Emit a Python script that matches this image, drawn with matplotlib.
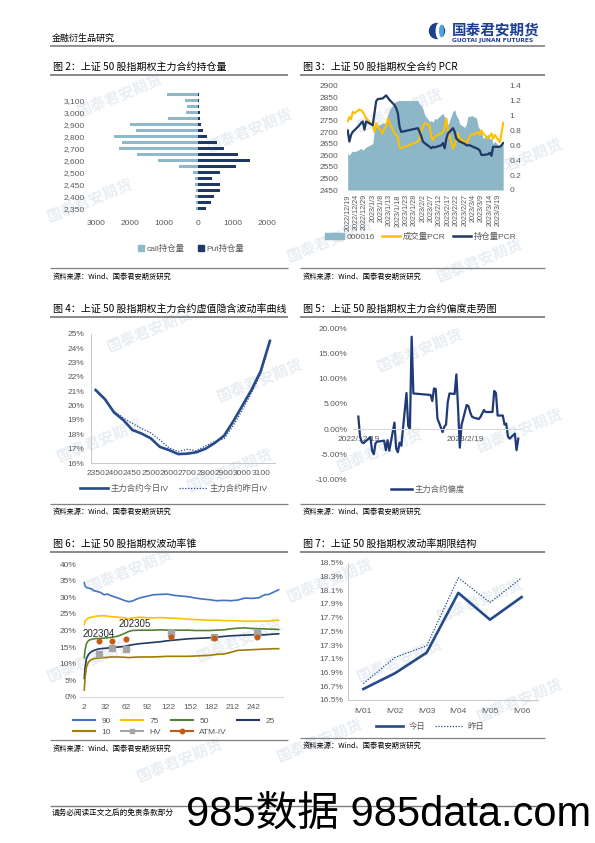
import numpy as np
import pandas as pd
import matplotlib
matplotlib.use('Agg')
import matplotlib.pyplot as plt
from matplotlib.lines import Line2D
from matplotlib.patches import Patch, Circle, Ellipse

plt.rcParams['font.family'] = ['Liberation Sans', 'Noto Sans CJK SC', 'DejaVu Sans']
plt.rcParams['axes.unicode_minus'] = False

# ---------------- data ----------------
# Fig 2: open interest by strike (main contract)
strikes = [2350, 2375, 2400, 2425, 2450, 2475, 2500, 2550, 2600, 2650,
           2700, 2750, 2800, 2850, 2900, 2950, 3000, 3050, 3100, 3150]
call_oi = [60, 80, 90, 80, 110, 100, 150, 580, 1180, 1800,
           2320, 2230, 2470, 1830, 2000, 900, 370, 330, 400, 920]
put_oi = [220, 380, 450, 640, 620, 390, 640, 1090, 1520, 1150,
          740, 540, 250, 150, 70, 50, 50, 30, 30, 30]

# Fig 3 / Fig 5: trading days
dates = ['2022-12-19', '2022-12-20', '2022-12-21', '2022-12-22', '2022-12-23',
         '2022-12-26', '2022-12-27', '2022-12-28', '2022-12-29', '2022-12-30',
         '2023-01-03', '2023-01-04', '2023-01-05', '2023-01-06', '2023-01-09',
         '2023-01-10', '2023-01-11', '2023-01-12', '2023-01-13', '2023-01-16',
         '2023-01-17', '2023-01-18', '2023-01-19', '2023-01-20', '2023-01-30',
         '2023-01-31', '2023-02-01', '2023-02-02', '2023-02-03', '2023-02-06',
         '2023-02-07', '2023-02-08', '2023-02-09', '2023-02-10', '2023-02-13',
         '2023-02-14', '2023-02-15', '2023-02-16', '2023-02-17', '2023-02-20',
         '2023-02-21', '2023-02-22', '2023-02-23', '2023-02-24', '2023-02-27',
         '2023-02-28', '2023-03-01', '2023-03-02', '2023-03-03', '2023-03-06',
         '2023-03-07', '2023-03-08', '2023-03-09', '2023-03-10', '2023-03-13',
         '2023-03-14', '2023-03-15', '2023-03-16', '2023-03-17', '2023-03-20',
         '2023-03-21', '2023-03-22']
index_000016 = [2608, 2600, 2612, 2618, 2615, 2625, 2630, 2622, 2628, 2635,
                2650, 2715, 2725, 2728, 2740, 2738, 2745, 2775, 2795, 2828,
                2832, 2835, 2836, 2836, 2836, 2820, 2815, 2800, 2775, 2745,
                2750, 2742, 2760, 2755, 2775, 2780, 2765, 2755, 2730, 2790,
                2795, 2770, 2760, 2735, 2720, 2735, 2770, 2765, 2772, 2760,
                2725, 2712, 2700, 2672, 2690, 2670, 2675, 2650, 2660, 2635,
                2650, 2645]
pcr_volume = [0.92, 0.98, 0.95, 1.05, 1.03, 1.08, 1.07, 1.05, 1.01, 0.96,
              0.87, 0.78, 0.90, 0.85, 0.76, 0.83, 0.85, 0.96, 0.90, 0.76,
              0.74, 0.71, 0.58, 0.56, 0.65, 0.69, 0.80, 0.85, 0.90, 0.87,
              0.72, 0.67, 0.71, 0.73, 0.76, 0.78, 0.85, 0.96, 0.80, 0.56,
              0.60, 0.72, 0.76, 0.69, 0.65, 0.63, 0.67, 0.72, 0.74, 0.76,
              0.78, 0.74, 0.80, 0.76, 0.69, 0.72, 0.76, 0.69, 0.74, 0.64,
              0.76, 0.90]
pcr_oi = [0.80, 0.65, 0.74, 0.78, 0.80, 0.87, 0.90, 0.92, 0.81, 0.92,
          0.87, 1.03, 1.19, 1.22, 1.23, 1.25, 1.27, 1.24, 1.21, 1.14,
          1.10, 1.03, 0.85, 0.78, 0.83, 0.78, 0.72, 0.65, 0.63, 0.58,
          0.56, 0.58, 0.57, 0.58, 0.60, 0.63, 0.56, 0.69, 0.76, 0.83,
          0.78, 0.69, 0.67, 0.65, 0.62, 0.60, 0.60, 0.60, 0.59, 0.56,
          0.55, 0.53, 0.47, 0.47, 0.48, 0.50, 0.46, 0.58, 0.58, 0.58,
          0.60, 0.63]
skew_pct = [2.5, -1.5, -2.6, -2.8, -2.5, -1.6, -4.3, -5.0, -2.8, -2.5,
            -2.3, -4.2, -2.2, -4.3, 1.3, -3.9, -4.6, -2.7, -3.3, 7.2,
            0.6, 0.0, 18.4, 7.1, 6.8, 5.6, 8.1, 8.0, 2.1, -0.6,
            0.5, 0.9, 5.4, 7.1, 7.0, 10.9, 4.1, -3.7, 0.8, 4.8,
            4.6, 3.4, 2.5, 2.3, 2.0, 2.4, 3.1, 3.8, 3.4, 3.4,
            3.4, 7.6, 7.2, 2.7, 2.7, 0.9, 1.1, -1.5, -1.9, -0.9,
            -4.2, -1.9]

# Fig 4: implied volatility smile (%)
iv_today = [21.08, 20.45, 19.52, 19.0, 18.3, 18.05, 17.72, 17.12, 16.9, 16.62,
            16.65, 16.75, 17.0, 17.4, 17.9, 18.9, 20.0, 21.1, 22.4, 24.5]
iv_yday = [21.0, 20.4, 19.6, 19.15, 18.75, 18.4, 18.1, 17.6, 17.05, 16.8,
           16.95, 16.85, 17.2, 17.5, 17.7, 18.6, 19.7, 20.9, 22.2, 24.4]

# Fig 6: volatility cone (%)
cone_days = [2, 3, 5, 8, 12, 16, 20, 25, 30, 35, 40, 50, 60, 65, 70, 80, 90, 100,
             110, 120, 130, 140, 150, 160, 170, 180, 190, 200, 210, 220, 230, 240,
             250, 258, 264, 270, 278]
pct90 = [34.5, 33.5, 33.0, 32.8, 32.6, 32.0, 31.8, 31.5, 30.8, 31.0, 30.5, 29.8,
         29.0, 28.7, 28.9, 29.8, 30.3, 30.8, 30.9, 31.0, 30.6, 30.4, 30.2, 29.8,
         29.5, 29.3, 29.0, 29.1, 29.0, 29.2, 29.8, 29.7, 29.9, 30.8, 30.9, 31.5, 32.3]
pct75 = [21.8, 22.8, 23.3, 23.8, 24.0, 24.2, 24.4, 24.4, 24.5, 24.3, 24.2, 24.0,
         23.8, 23.5, 23.8, 24.0, 23.9, 23.8, 23.9, 23.8, 23.7, 23.6, 23.4, 23.3,
         23.2, 23.1, 23.1, 23.0, 23.0, 22.9, 22.8, 22.8, 22.8, 22.8, 22.9, 23.0, 23.1]
pct50 = [11.8, 14.0, 16.0, 17.0, 17.3, 17.5, 17.6, 17.6, 17.7, 17.8, 17.9, 18.3,
         19.2, 19.7, 20.0, 20.1, 20.1, 20.1, 20.2, 20.1, 20.1, 20.1, 20.1, 20.0,
         20.0, 20.0, 20.1, 20.2, 20.5, 20.7, 20.8, 20.6, 20.5, 20.5, 20.4, 20.4, 20.3]
pct25 = [5.5, 8.5, 11.5, 12.8, 13.6, 14.0, 14.3, 14.5, 14.6, 14.7, 14.8, 15.0,
         15.2, 15.5, 15.7, 16.0, 16.2, 16.4, 16.6, 16.9, 17.1, 17.3, 17.5, 17.6,
         17.7, 17.8, 18.0, 18.2, 18.4, 18.5, 18.6, 18.7, 18.7, 18.7, 18.8, 18.9, 19.0]
pct10 = [2.0, 5.5, 9.0, 10.5, 11.2, 11.5, 11.6, 11.7, 11.8, 11.9, 12.0, 12.0,
         11.9, 11.8, 11.9, 12.0, 12.0, 12.0, 12.1, 12.2, 12.2, 12.2, 12.2, 12.3,
         12.4, 12.5, 12.8, 12.9, 13.4, 14.0, 14.1, 14.2, 14.3, 14.4, 14.4, 14.5, 14.5]
contract_days = [23, 41, 61, 125, 186, 247]
hv_pct = [12.9, 14.6, 14.3, 19.1, 18.1, 19.1]
atm_iv_pct = [16.8, 16.9, 17.3, 17.9, 17.7, 18.1]

# Fig 7: term structure (%)
terms = ['IV01', 'IV02', 'IV03', 'IV04', 'IV05', 'IV06']
term_today = [16.66, 16.89, 17.19, 18.06, 17.67, 18.0]
term_yday = [16.74, 17.12, 17.29, 18.28, 17.92, 18.28]

# ---------------- styling ----------------
W, H = 595, 843
TICK = '#595959'
NAVY = '#1F3864'
CALL = '#8FB8CA'
AREA = '#8DB6C7'
YEL = '#FFC000'
LINE = '#264A8A'
CJK = ['Noto Sans CJK SC', 'DejaVu Sans']

fig = plt.figure(figsize=(W / 100, H / 100), dpi=100)
fig.patch.set_facecolor('white')

bg = fig.add_axes([0, 0, 1, 1], zorder=0)
bg.set_xlim(0, W)
bg.set_ylim(H, 0)
bg.axis('off')


def axpx(l, t, r, b, z=2):
    ax = fig.add_axes([l / W, 1 - b / H, (r - l) / W, (b - t) / H], zorder=z)
    ax.patch.set_alpha(0)
    return ax


def hline(x1, x2, y, color='#808080', lw=1.2):
    bg.plot([x1, x2], [y, y], color=color, lw=lw, solid_capstyle='butt')


def ftext(x, y, s, size=7, **kw):
    kw.setdefault('va', 'center')
    kw.setdefault('ha', 'left')
    bg.text(x, y, s, fontsize=size, family=CJK, **kw)


def center_legend(ax, handles, labels, cx, cy, **kw):
    leg = ax.legend(handles, labels, loc='center', bbox_to_anchor=(cx / W, 1 - cy / H),
                    bbox_transform=fig.transFigure, frameon=False,
                    prop={'family': ['Liberation Sans', 'Noto Sans CJK SC'], 'size': 6},
                    labelcolor=TICK, **kw)
    return leg


# faint background watermarks
for (wx, wy) in [(120, 95), (250, 130), (400, 110), (520, 160), (90, 200), (330, 240),
                 (480, 260), (150, 330), (420, 350), (260, 380), (100, 440), (380, 450),
                 (230, 470), (520, 430), (130, 570), (330, 580), (480, 600), (90, 660),
                 (240, 640), (400, 660), (180, 760), (520, 700), (320, 740)]:
    bg.text(wx, wy, '国泰君安期货', fontsize=11, family=CJK, color='#E9EEF3',
            rotation=22, ha='center', va='center', weight='bold', zorder=0)

# header
ftext(52, 38, '金融衍生品研究', size=6.5)
hline(50, 545, 46, color='#7F7F7F', lw=1.2)
bg.add_patch(Circle((437, 31), 7.5, color='#1D3F8F', zorder=3))
bg.add_patch(Ellipse((439.5, 31), 6.5, 15.5, color='white', zorder=4))
bg.add_patch(Ellipse((441.5, 31), 3.5, 11, color='#4FA3DC', zorder=5))
bg.text(452, 29.5, '国泰君安期货', fontsize=10.5, family=CJK, weight='bold', color='#1D3F8F',
        va='center', ha='left')
bg.text(452, 40.5, 'GUOTAI JUNAN FUTURES', fontsize=4.3, weight='bold', color='#1D3F8F',
        va='center', ha='left', family=['DejaVu Sans'])

# panel titles, rules, sources
SRC = '资料来源：Wind、国泰君安期货研究'
for x0, x1, ty, title, by in [
        (50, 288, 67, '图 2：上证 50 股指期权主力合约持仓量', 268),
        (300, 545, 67, '图 3：上证 50 股指期权全合约 PCR', 268),
        (50, 288, 309, '图 4：上证 50 股指期权主力合约虚值隐含波动率曲线', 503.5),
        (300, 545, 309, '图 5：上证 50 股指期权主力合约偏度走势图', 503.5),
        (50, 288, 543.5, '图 6：上证 50 股指期权波动率锥', 740),
        (300, 545, 543.5, '图 7：上证 50 股指期权波动率期限结构', 737.5)]:
    ftext(x0 + 3, ty, title, size=7.2)
    hline(x0, x1, ty + 8, color='#808080', lw=1.3)
    hline(x0, x1, by, color='#808080', lw=0.9)
    ftext(x0 + 3, by + 8.5, SRC, size=5.2)

# footer
hline(50, 545, 806, color='#7F7F7F', lw=1.0)
ftext(52, 813, '请务必阅读正文之后的免责条款部分', size=5.5)
ftext(535, 813, '4', size=5.5)

# ---------------- Fig 2 ----------------
ax2 = axpx(95.8, 91.3, 266.7, 211.3)
yy = np.arange(len(strikes))
ax2.barh(yy, [-v for v in call_oi], height=0.55, color=CALL)
ax2.barh(yy, put_oi, height=0.55, color=NAVY)
ax2.set_xlim(-3000, 2000)
ax2.set_ylim(-0.5, len(strikes) - 0.5)
ax2.set_xticks([-3000, -2000, -1000, 0, 1000, 2000])
ax2.set_xticklabels(['3000', '2000', '1000', '0', '1000', '2000'])
ax2.set_yticks(yy)
ax2.set_yticklabels([f'{s:,}' if i % 2 == 0 else '' for i, s in enumerate(strikes)])
ax2.tick_params(axis='y', length=0, pad=8, labelsize=6, labelcolor=TICK)
ax2.tick_params(axis='x', length=0, pad=6, labelsize=6, labelcolor=TICK)
for s in ax2.spines.values():
    s.set_visible(False)
center_legend(ax2, [Patch(color=CALL), Patch(color=NAVY)], ['call持仓量', 'Put持仓量'],
              191, 248.5, ncol=2, handlelength=0.7, handleheight=0.7,
              handletextpad=0.3, columnspacing=1.6)

# ---------------- Fig 3 ----------------
dts = pd.to_datetime(dates)
ax3 = axpx(346.7, 85.7, 504, 190)
ax3.fill_between(dts, index_000016, 2450, color=AREA, lw=0)
ax3.set_ylim(2450, 2900)
ax3.set_yticks(np.arange(2450, 2901, 50))
ax3.set_xlim(dts[0] - pd.Timedelta(days=0.6), dts[0] + pd.Timedelta(days=93.5))
ticks3 = pd.date_range('2022-12-19', '2023-03-19', freq='5D')
ax3.set_xticks(ticks3)
ax3.set_xticklabels([f'{d.year}/{d.month}/{d.day}' for d in ticks3], rotation=90)
ax3.tick_params(axis='x', length=0, pad=3, labelsize=5.2, labelcolor=TICK)
ax3.tick_params(axis='y', length=0, pad=6, labelsize=6, labelcolor=TICK)
ax3r = ax3.twinx()
ax3r.patch.set_alpha(0)
ax3r.plot(dts, pcr_volume, color=YEL, lw=1.5)
ax3r.plot(dts, pcr_oi, color=NAVY, lw=1.6)
ax3r.set_ylim(0, 1.4)
ax3r.set_yticks(np.arange(0, 1.41, 0.2))
ax3r.set_yticklabels(['0', '0.2', '0.4', '0.6', '0.8', '1', '1.2', '1.4'])
ax3r.tick_params(axis='y', length=0, pad=4, labelsize=6, labelcolor=TICK)
for a in (ax3, ax3r):
    for s in a.spines.values():
        s.set_visible(False)
center_legend(ax3r, [Patch(color=AREA), Line2D([], [], color=YEL, lw=1.8),
                     Line2D([], [], color=NAVY, lw=1.8)],
              ['000016', '成交量PCR', '持仓量PCR'], 421, 237, ncol=3,
              handlelength=2.2, handletextpad=0.3, columnspacing=0.9)

# ---------------- Fig 4 ----------------
ax4 = axpx(91.1, 333.7, 274.5, 463)
xs4 = np.arange(len(strikes))
ax4.plot(xs4, np.array(iv_today) / 100, color=LINE, lw=1.9)
ax4.plot(xs4, np.array(iv_yday) / 100, color=LINE, lw=0.9, ls=(0, (1, 1.3)))
ax4.set_xlim(-0.5, len(strikes) - 0.5)
ax4.set_ylim(0.16, 0.25)
yt4 = np.arange(0.16, 0.2501, 0.01)
ax4.set_yticks(yt4)
ax4.set_yticklabels([f'{v * 100:.0f}%' for v in yt4])
ax4.set_xticks(xs4[::2])
ax4.set_xticklabels([str(s) for s in strikes[::2]])
ax4.tick_params(axis='y', length=0, pad=5, labelsize=6, labelcolor=TICK)
ax4.tick_params(axis='x', length=0, pad=5, labelsize=6, labelcolor=TICK)
for k, s in ax4.spines.items():
    if k in ('top', 'right'):
        s.set_visible(False)
    else:
        s.set_color('#BFBFBF')
        s.set_linewidth(0.6)
center_legend(ax4, [Line2D([], [], color=LINE, lw=1.9),
                    Line2D([], [], color=LINE, lw=0.9, ls=(0, (1, 1.3)))],
              ['主力合约今日IV', '主力合约昨日IV'], 174, 488.5, ncol=2,
              handlelength=3.3, handletextpad=0.4, columnspacing=1.2)

# ---------------- Fig 5 ----------------
ax5 = axpx(353, 328.7, 520, 479.3)
ax5.plot(dts, np.array(skew_pct) / 100, color='#1F3A77', lw=1.6)
ax5.set_ylim(-0.10, 0.20)
yt5 = np.arange(-0.10, 0.2001, 0.05)
ax5.set_yticks(yt5)
ax5.set_yticklabels([f'{v * 100:.2f}%' for v in yt5])
ax5.set_xlim(dts[0] - pd.Timedelta(days=3.1), dts[0] + pd.Timedelta(days=94))
ax5.set_xticks(pd.to_datetime(['2022-12-19', '2023-02-19']))
ax5.set_xticklabels(['2022/12/19', '2023/2/19'])
ax5.spines['bottom'].set_position(('data', 0))
ax5.spines['bottom'].set_color('#D9D9D9')
ax5.spines['bottom'].set_linewidth(0.8)
for k in ('top', 'right', 'left'):
    ax5.spines[k].set_visible(False)
ax5.tick_params(axis='y', length=0, pad=4, labelsize=6, labelcolor=TICK)
ax5.tick_params(axis='x', length=0, pad=5, labelsize=6, labelcolor=TICK)
center_legend(ax5, [Line2D([], [], color='#1F3A77', lw=1.8)], ['主力合约偏度'],
              428, 489.5, handlelength=2.6, handletextpad=0.3)

# ---------------- Fig 6 ----------------
ax6 = axpx(80, 564.3, 283, 696.7)
C90, C75, C50, C25, C10 = '#4472C4', '#FFC000', '#548235', '#203864', '#A07C00'
CHV, CATM = '#A5A5A5', '#C55A11'
cd = np.array(cone_days)
ax6.plot(cd, np.array(pct90) / 100, color=C90, lw=1.2)
ax6.plot(cd, np.array(pct75) / 100, color=C75, lw=1.2)
ax6.plot(cd, np.array(pct50) / 100, color=C50, lw=1.2)
ax6.plot(cd, np.array(pct25) / 100, color=C25, lw=1.2)
ax6.plot(cd, np.array(pct10) / 100, color=C10, lw=1.2)
ax6.plot(contract_days, np.array(hv_pct) / 100, ls='none', marker='s', ms=3.8, color=CHV)
ax6.plot(contract_days, np.array(atm_iv_pct) / 100, ls='none', marker='o', ms=3.3, color=CATM)
ax6.text(22, 0.189, '202304', ha='center', va='center', fontsize=7, color='#262626')
ax6.text(74, 0.219, '202305', ha='center', va='center', fontsize=7, color='#262626')
ax6.set_xlim(-4.1, 284.2)
ax6.set_ylim(0, 0.40)
yt6 = np.arange(0, 0.4001, 0.05)
ax6.set_yticks(yt6)
ax6.set_yticklabels([f'{v * 100:.0f}%' for v in yt6])
ax6.set_xticks(np.arange(2, 243, 30))
ax6.tick_params(axis='y', length=0, pad=2.5, labelsize=6, labelcolor=TICK)
ax6.tick_params(axis='x', length=0, pad=5.5, labelsize=6, labelcolor=TICK)
for k, s in ax6.spines.items():
    if k == 'bottom':
        s.set_color('#D9D9D9')
        s.set_linewidth(0.8)
    else:
        s.set_visible(False)
h6 = {
    '90': Line2D([], [], color=C90, lw=1.5),
    '75': Line2D([], [], color=C75, lw=1.5),
    '50': Line2D([], [], color=C50, lw=1.5),
    '25': Line2D([], [], color=C25, lw=1.5),
    '10': Line2D([], [], color=C10, lw=1.5),
    'HV': Line2D([], [], color=CHV, lw=1.5, marker='s', ms=3.5),
    'ATM-IV': Line2D([], [], color=CATM, lw=1.5, marker='o', ms=3.2),
}
order6 = ['90', '10', '75', 'HV', '50', 'ATM-IV', '25']
center_legend(ax6, [h6[k] for k in order6], order6, 174, 726.5, ncol=4,
              handlelength=2.6, handletextpad=0.8, columnspacing=1.2, labelspacing=0.4)

# ---------------- Fig 7 ----------------
ax7 = axpx(347.5, 562.7, 537.5, 700)
xs7 = np.arange(len(terms))
ax7.plot(xs7, term_today, color=LINE, lw=1.9)
ax7.plot(xs7, term_yday, color=LINE, lw=0.9, ls=(0, (1, 1.3)))
ax7.set_xlim(-0.5, len(terms) - 0.5)
ax7.set_ylim(16.5, 18.5)
yt7 = np.arange(16.5, 18.501, 0.2)
ax7.set_yticks(yt7)
ax7.set_yticklabels([f'{v:.1f}%' for v in yt7])
ax7.set_xticks(xs7)
ax7.set_xticklabels(terms)
ax7.tick_params(axis='y', length=0, pad=3, labelsize=6, labelcolor=TICK)
ax7.tick_params(axis='x', length=0, pad=5.5, labelsize=6, labelcolor=TICK)
for k, s in ax7.spines.items():
    if k in ('top', 'right'):
        s.set_visible(False)
    else:
        s.set_color('#BFBFBF')
        s.set_linewidth(0.6)
center_legend(ax7, [Line2D([], [], color=LINE, lw=1.9),
                    Line2D([], [], color=LINE, lw=0.9, ls=(0, (1, 1.3)))],
              ['今日', '昨日'], 430, 727, ncol=2,
              handlelength=3.3, handletextpad=0.6, columnspacing=1.2)

# ---------------- overlay watermark ----------------
top = fig.add_axes([0, 0, 1, 1], zorder=20)
top.set_xlim(0, W)
top.set_ylim(H, 0)
top.axis('off')
top.patch.set_alpha(0)
top.text(186, 815, '985数据 985data.com', fontsize=30, color='black', va='center', ha='left',
         family=['Liberation Sans', 'Noto Sans CJK SC'])

fig.savefig('out.png', dpi=100, facecolor='white')
